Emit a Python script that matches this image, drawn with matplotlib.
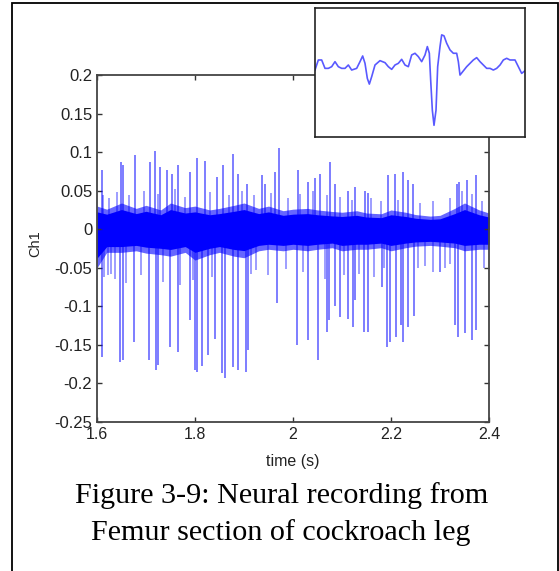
import matplotlib
matplotlib.use("Agg")
import matplotlib.pyplot as plt
from matplotlib.patches import Rectangle

# --- data ---
# noise band envelope (dense part of the recording)
band_t = [1.60, 1.62, 1.65, 1.68, 1.70, 1.73, 1.75, 1.78, 1.80, 1.83, 1.85, 1.88, 1.90,
          1.93, 1.95, 1.98, 2.00, 2.03, 2.05, 2.08, 2.10, 2.13, 2.15, 2.18, 2.20, 2.23,
          2.25, 2.28, 2.30, 2.33, 2.35, 2.38, 2.40]
band_hi = [0.030, 0.026, 0.034, 0.027, 0.031, 0.025, 0.034, 0.028, 0.030, 0.025, 0.027, 0.031, 0.034,
           0.027, 0.030, 0.024, 0.026, 0.027, 0.025, 0.023, 0.022, 0.024, 0.021, 0.020, 0.025, 0.022,
           0.019, 0.017, 0.018, 0.027, 0.034, 0.025, 0.021]
band_lo = [-0.050, -0.030, -0.030, -0.028, -0.031, -0.033, -0.035, -0.030, -0.040, -0.033, -0.030, -0.035, -0.037,
           -0.028, -0.026, -0.028, -0.026, -0.028, -0.026, -0.024, -0.028, -0.026, -0.026, -0.024, -0.028, -0.024,
           -0.022, -0.021, -0.022, -0.024, -0.028, -0.026, -0.026]

# positive spike peaks
pos_t = [1.6096, 1.6484, 1.6537, 1.6776, 1.7082, 1.7184, 1.7286, 1.7422, 1.7524, 1.7659,
         1.7898, 1.8035, 1.8204, 1.8443, 1.8578, 1.8782, 1.8884, 1.9055, 1.9361, 1.9429,
         1.9633, 1.9720, 2.0108, 2.0312, 2.0449, 2.0551, 2.0755, 2.0857, 2.1129, 2.1265,
         2.1469, 2.1537, 2.1945, 2.2082, 2.2239, 2.2353, 2.2455, 2.3341, 2.3394, 2.3545, 2.3735]
pos_v = [0.077, 0.087, 0.083, 0.096, 0.087, 0.102, 0.081, 0.077, 0.072, 0.083,
         0.074, 0.092, 0.089, 0.068, 0.083, 0.098, 0.072, 0.059, 0.070, 0.059,
         0.074, 0.105, 0.077, 0.061, 0.066, 0.072, 0.087, 0.059, 0.050, 0.055,
         0.050, 0.047, 0.070, 0.072, 0.074, 0.064, 0.059, 0.059, 0.061, 0.064, 0.070]

# negative spike troughs
neg_t = [1.6096, 1.6469, 1.6537, 1.6755, 1.7065, 1.7204, 1.7251, 1.7490, 1.7659, 1.7898,
         1.8000, 1.8047, 1.8137, 1.8271, 1.8408, 1.8543, 1.8612, 1.8782, 1.8884, 1.9041,
         1.9088, 1.9678, 2.0073, 2.0312, 2.0516, 2.0700, 2.0739, 2.0857, 2.0959, 2.1129,
         2.1229, 2.1265, 2.1449, 2.1537, 2.1808, 2.1922, 2.1980, 2.2096, 2.2198, 2.2249,
         2.2353, 2.2469, 2.3000, 2.3306, 2.3373, 2.3510, 2.3647, 2.3735]
neg_v = [-0.166, -0.172, -0.170, -0.146, -0.170, -0.183, -0.176, -0.153, -0.159, -0.118,
         -0.183, -0.185, -0.178, -0.163, -0.142, -0.187, -0.193, -0.179, -0.183, -0.185,
         -0.157, -0.096, -0.150, -0.144, -0.170, -0.133, -0.118, -0.100, -0.114, -0.116,
         -0.127, -0.092, -0.133, -0.133, -0.075, -0.153, -0.146, -0.140, -0.124, -0.146,
         -0.127, -0.112, -0.055, -0.124, -0.140, -0.135, -0.144, -0.131]

# smaller excursions just outside the band
mid_t = [1.615, 1.622, 1.628, 1.636, 1.660, 1.690, 1.735, 1.770, 1.795, 1.835,
         1.915, 1.925, 1.950, 1.985, 2.020, 2.065, 2.105, 2.135, 2.165, 2.185,
         2.255, 2.270, 2.285, 2.310, 2.320, 2.390]
mid_v = [-0.062, -0.060, -0.058, -0.065, -0.070, -0.060, -0.068, -0.072, -0.066, -0.062,
         -0.058, -0.053, -0.060, -0.052, -0.055, -0.064, -0.060, -0.058, -0.062, -0.050,
         -0.050, -0.048, -0.055, -0.050, -0.045, -0.050]
midp_t = [1.612, 1.625, 1.640, 1.665, 1.695, 1.725, 1.760, 1.780, 1.830, 1.870,
          1.895, 1.920, 1.955, 1.990, 2.015, 2.040, 2.070, 2.095, 2.120, 2.160,
          2.180, 2.215, 2.260, 2.285, 2.320, 2.345, 2.365, 2.385]
midp_v = [0.045, 0.040, 0.048, 0.044, 0.050, 0.046, 0.052, 0.042, 0.048, 0.045,
          0.050, 0.044, 0.047, 0.040, 0.046, 0.050, 0.044, 0.042, 0.038, 0.040,
          0.036, 0.038, 0.034, 0.036, 0.040, 0.050, 0.046, 0.036]

# inset: single spike waveform
inset_sample = [0, 10, 20, 30, 40, 50, 60, 70, 80, 90, 100, 110, 125, 135, 143, 150, 157, 163,
                170, 180, 195, 210, 220, 230, 240, 250, 260, 270, 280, 290, 300, 310, 320, 330,
                337, 343, 347, 352, 357, 363, 368, 375, 380, 387, 395, 405, 415, 425, 430, 435,
                443, 455, 465, 475, 485, 495, 505, 515, 525, 535, 545, 555, 565, 575, 585, 600,
                610, 620, 630]
inset_v = [0.000, 0.030, 0.030, 0.005, 0.005, 0.010, 0.025, 0.010, 0.005, 0.005, 0.015, 0.000,
           0.005, 0.025, 0.042, 0.020, -0.025, -0.042, -0.020, 0.015, 0.028, 0.022, 0.010, 0.002,
           0.015, 0.020, 0.032, 0.015, 0.010, 0.045, 0.050, 0.040, 0.025, 0.045, 0.070, 0.050,
           -0.030, -0.120, -0.165, -0.120, 0.010, 0.070, 0.105, 0.102, 0.080, 0.060, 0.050, 0.050,
           0.025, -0.015, -0.005, 0.010, 0.020, 0.030, 0.037, 0.025, 0.015, 0.005, 0.005, 0.000,
           0.005, 0.015, 0.030, 0.035, 0.030, 0.030, 0.010, -0.010, -0.002]

yticks = [-0.25, -0.2, -0.15, -0.1, -0.05, 0, 0.05, 0.1, 0.15, 0.2]
ytick_labels = ['-0.25', '-0.2', '-0.15', '-0.1', '-0.05', '0', '0.05', '0.1', '0.15', '0.2']
xticks = [1.6, 1.8, 2.0, 2.2, 2.4]
xtick_labels = ['1.6', '1.8', '2', '2.2', '2.4']

plt.rcParams['font.family'] = ['Liberation Sans', 'DejaVu Sans']

fig = plt.figure(figsize=(5.59, 5.71), dpi=100)
ax = fig.add_axes([0.1735, 0.2609, 0.7013, 0.6078])

sig = '#0000ff'
ax.vlines(pos_t, 0, pos_v, color=sig, lw=1.3, alpha=0.55)
ax.vlines(neg_t, 0, neg_v, color=sig, lw=1.3, alpha=0.55)
ax.vlines(mid_t, 0, mid_v, color=sig, lw=1.2, alpha=0.45)
ax.vlines(midp_t, 0, midp_v, color=sig, lw=1.2, alpha=0.45)
ax.fill_between(band_t, band_lo, band_hi, color=sig, alpha=0.6, lw=0)
ax.fill_between(band_t, [v * 0.75 for v in band_lo], [v * 0.75 for v in band_hi], color=sig, lw=0)

ax.set_xlim(1.6, 2.4)
ax.set_ylim(-0.25, 0.2)
ax.set_xticks(xticks)
ax.set_xticklabels(xtick_labels)
ax.set_yticks(yticks)
ax.set_yticklabels(ytick_labels)
ax.tick_params(direction='in', length=3.5, width=1, top=True, right=True,
               labelsize=12, labelcolor='#222222', color='#333333')
ax.tick_params(axis='x', labelsize=11.5)
for s in ax.spines.values():
    s.set_color('#444444')
    s.set_linewidth(1.3)

fig.text(0.524, 0.191, 'time (s)', ha='center', va='center', fontsize=11.5, color='#222222')
fig.text(0.0626, 0.574, 'Ch1', ha='center', va='center', rotation=90, fontsize=10.5, color='#222222')

# inset
axi = fig.add_axes([0.5635, 0.760, 0.3757, 0.2259])
axi.plot(inset_sample, inset_v, color=sig, lw=1.2, alpha=0.65)
axi.set_xlim(0, 630)
axi.set_ylim(-0.2, 0.185)
axi.set_xticks([])
axi.set_yticks([])
for s in axi.spines.values():
    s.set_color('#222222')
    s.set_linewidth(1.2)

# caption
fig.text(0.503, 0.119, 'Figure 3-9: Neural recording from', ha='center', va='baseline',
         fontsize=21.7, family=['Liberation Serif', 'DejaVu Serif'], color='black')
fig.text(0.503, 0.0543, 'Femur section of cockroach leg', ha='center', va='baseline',
         fontsize=21.7, family=['Liberation Serif', 'DejaVu Serif'], color='black')

# outer frame
fig.patches.append(Rectangle((0.0215, -0.01), 0.976, 1.0047, transform=fig.transFigure,
                             fill=False, edgecolor='black', lw=1.3))

fig.savefig('out.png', dpi=100)
